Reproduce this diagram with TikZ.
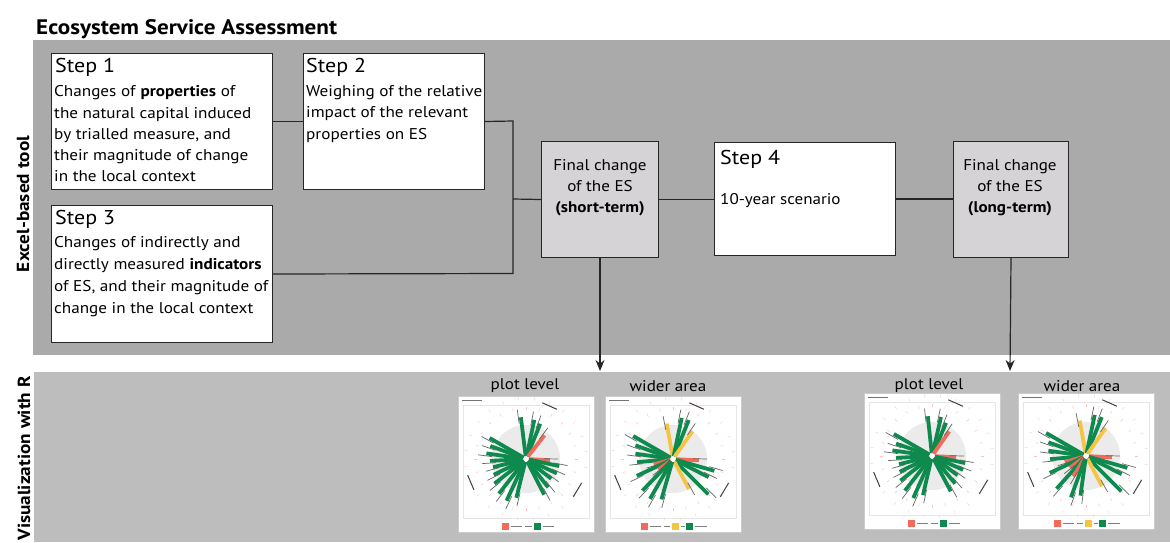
\documentclass[tikz,border=0pt]{standalone}
\usepackage{fontspec}
\setmainfont{PT Sans}[FakeStretch=1.1]
\usetikzlibrary{arrows.meta}
\definecolor{panelA}{HTML}{AAAAAA}
\definecolor{panelB}{HTML}{BDBDBD}
\definecolor{finalfill}{HTML}{D5D3D5}
\definecolor{esg}{HTML}{0E8A4E}
\definecolor{esr}{HTML}{F26A5A}
\definecolor{esy}{HTML}{F4C542}
\newcommand{\legendA}{%
  \fill[esr] (44,127) rectangle (51,134);
  \draw[black!50, line width=0.6pt] (53,130.5) -- (64,130.5);
  \draw[black!50, line width=0.6pt] (67,130.5) -- (74,130.5);
  \fill[esg] (76,127) rectangle (83,134);
  \draw[black!50, line width=0.6pt] (85,130.5) -- (96,130.5);}
\newcommand{\legendB}{%
  \fill[esr] (36,127) rectangle (43,134);
  \draw[black!50, line width=0.6pt] (45,130.5) -- (56,130.5);
  \draw[black!50, line width=0.6pt] (59,130.5) -- (65,130.5);
  \fill[esy] (67,127) rectangle (74,134);
  \draw[black!50, line width=0.6pt] (76,130.5) -- (80,130.5);
  \fill[esg] (81,127) rectangle (88,134);
  \draw[black!50, line width=0.6pt] (90,130.5) -- (102,130.5);}
\newcommand{\radarplot}[4]{%
\begin{scope}[shift={(#1,#2)}]
  \fill[white] (0,0) rectangle (136,136);
  \draw[black!20, line width=0.4pt] (0,0) rectangle (136,136);
  \draw[black!10, line width=0.4pt] (5,9) rectangle (131,122);
  \draw[black!55, line width=0.8pt] (4,4) -- (24,4);
  \begin{scope}[shift={(68,63)}, y=1pt]
    \fill[black!8] (0,0) circle (34);
    \foreach \a in {0,15,...,345} {
      \draw[esr!40, line width=0.5pt] (\a:49) -- ({\a}:52);
      \draw[esr!30, line width=0.5pt] ({\a+7}:59) -- ({\a+7}:62);}
    \foreach \a/\l/\c in {#3} {
      \draw[line width=3.8pt, \c] ({\a}:3) -- ({\a}:{\l});
      \draw[line width=0.7pt, black!60] ({\a+4}:{\l-6}) -- ({\a+3}:{\l+8});}
    \fill[white] (0,0) circle (2.5);
    \draw[black!75, line width=1pt] (66:58) ++(-24:-8) -- ++(-24:16);
    \draw[black!75, line width=1pt] (203:60) ++(113:-8) -- ++(113:16);
    \draw[black!75, line width=1pt] (-31:60) ++(59:-8) -- ++(59:16);
  \end{scope}
  #4
\end{scope}}
\begin{document}
\begin{tikzpicture}[x=1pt,y=-1pt,
  stepbox/.style={draw=black!85, fill=white, line width=1pt, inner sep=0pt, anchor=north west},
  finalbox/.style={stepbox, fill=finalfill},
  heading/.style={anchor=base west, inner sep=0pt, font=\fontsize{20}{24}\selectfont},
  bodytext/.style={anchor=north west, inner sep=0pt, align=left, font=\fontsize{15.6}{21.2}\selectfont},
  finaltext/.style={anchor=north, inner sep=0pt, align=center, font=\fontsize{15.5}{21}\selectfont},
  sidelabel/.style={rotate=90, inner sep=0pt, font=\bfseries\fontsize{17.5}{20}\selectfont},
  levellabel/.style={inner sep=0pt, font=\fontsize{15.5}{18}\selectfont},
  conn/.style={draw=black!85, line width=1.2pt},
  arr/.style={conn, -{Stealth[length=11pt,width=9pt]}}]
\useasboundingbox (0,0) rectangle (1170,542);
\fill[white] (0,0) rectangle (1170,542);
\fill[panelA] (33,40) rectangle (1170,355);
\fill[panelB] (34,372) rectangle (1170,542);
\node[anchor=base west, inner sep=0pt, font=\bfseries\fontsize{21}{24}\selectfont] (title) at (36,34) {Ecosystem Service Assessment};
\node[sidelabel] (excel) at (23,204) {Excel-based tool};
\node[sidelabel, anchor=east] (vis) at (24,376) {Visualization with R};
% boxes
\node[stepbox, minimum width=221, minimum height=136] (s1) at (51,53) {};
\node[stepbox, minimum width=181, minimum height=136] (s2) at (303,53) {};
\node[stepbox, minimum width=221, minimum height=137] (s3) at (51,205) {};
\node[finalbox, minimum width=117, minimum height=116] (short) at (541,141) {};
\node[stepbox, minimum width=181, minimum height=113] (s4) at (714,142) {};
\node[finalbox, minimum width=115, minimum height=116] (long) at (953,141) {};
% texts
\node[heading] (h1) at (55,72) {Step 1};
\node[bodytext] (b1) at (54,85.5) {Changes of \textbf{properties} of\\the natural capital induced\\by trialled measure, and\\their magnitude of change\\in the local context};
\node[heading] (h2) at (306,72) {Step 2};
\node[bodytext] (b2) at (306,85.5) {Weighing of the relative\\impact of the relevant\\properties on ES};
\node[heading] (h3) at (55,224) {Step 3};
\node[bodytext, font=\fontsize{15.6}{21.8}\selectfont] (b3) at (54,236.5) {Changes of indirectly and\\directly measured \textbf{indicators}\\of ES, and their magnitude of\\change in the local context};
\node[heading] (h4) at (720,164) {Step 4};
\node[anchor=base west, inner sep=0pt, font=\fontsize{15.5}{21}\selectfont] (b4) at (720,204) {10-year scenario};
\node[finaltext] (t5) at (600,159) {Final change\\of the ES\\\textbf{(short-term)}};
\node[finaltext] (t6) at (1010,159) {Final change\\of the ES\\\textbf{(long-term)}};
% connectors
\coordinate (jtop) at (513,121);
\coordinate (jmid) at (513,199);
\coordinate (jbot) at (513,273.5);
\draw[conn] (s1.east) -- (s2.west);
\draw[conn] (s2.east) -- (jtop) -- (jbot) -- (s3.east);
\draw[conn] (jmid) -- (short.west);
\draw[conn] (short.east) -- (short.east -| s4.west);
\draw[conn] (s4.east) -- (s4.east -| long.west);
\coordinate (a1) at (600,371);
\coordinate (a2) at (1010,371);
\draw[arr] (short.south) -- (a1);
\draw[arr] (long.south) -- (a2);
% lower labels
\node[levellabel] (pl1) at (525,386) {plot level};
\node[levellabel] (wa1) at (668,386) {wider area};
\node[levellabel] (pl2) at (929,386) {plot level};
\node[levellabel] (wa2) at (1082,386) {wider area};
% radar plots
\radarplot{458}{396}{97/42/esg, 78/40/esg, 68/38/esg, 52/30/esr, -3/24/esr, -12/34/esg, -25/34/esg, -38/32/esg, -52/36/esg, -63/40/esg, 150/42/esg, 160/38/esg, 172/40/esg, 183/36/esg, 194/34/esg, 206/36/esg, 218/40/esg, 232/44/esg, 245/46/esg, 256/40/esg}{\legendA}
\radarplot{605}{396}{100/36/esy, 78/42/esg, 68/42/esg, 55/34/esy, -3/26/esr, -16/43/esg, -27/40/esg, -45/50/esg, -62/34/esy, 150/46/esg, 160/40/esg, 172/38/esg, 185/36/esg, 196/20/esr, 205/40/esg, 216/18/esr, 226/44/esg, 240/46/esg, 254/42/esg}{\legendB}
\radarplot{864}{393}{96/40/esg, 77/40/esg, 67/36/esg, 55/30/esr, -3/24/esr, -12/34/esg, -24/34/esg, -37/32/esg, -50/36/esg, -62/40/esg, 150/44/esg, 161/38/esg, 172/40/esg, 183/36/esg, 194/34/esg, 206/36/esg, 218/40/esg, 232/44/esg, 246/46/esg, 257/40/esg}{\legendA}
\radarplot{1018}{393}{100/36/esy, 78/42/esg, 68/42/esg, 55/34/esy, -3/26/esr, -16/43/esg, -27/40/esg, -45/50/esg, -62/34/esy, 150/46/esg, 160/40/esg, 172/38/esg, 185/36/esg, 196/22/esr, 205/40/esg, 216/20/esr, 228/44/esg, 238/24/esr, 250/44/esg, 262/40/esg}{\legendB}
\end{tikzpicture}
\end{document}
